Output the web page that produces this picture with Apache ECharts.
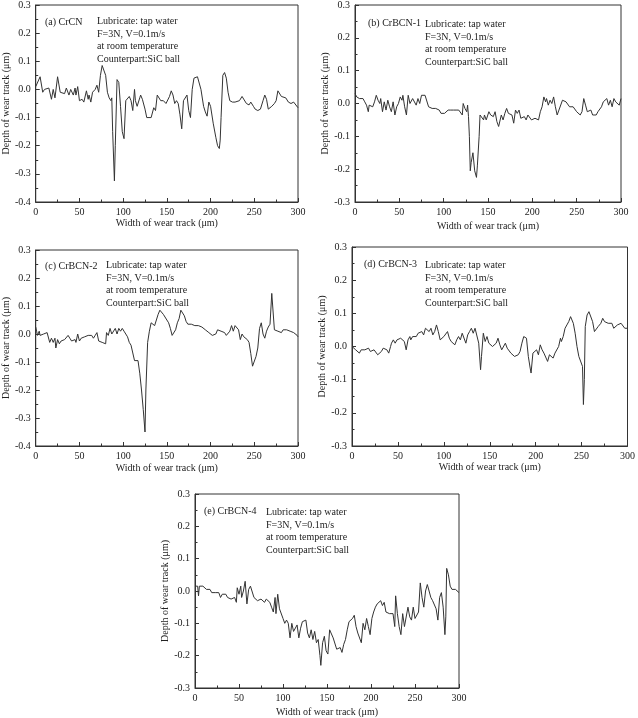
<!DOCTYPE html>
<html>
<head>
<meta charset="utf-8">
<script src="https://cdn.jsdelivr.net/npm/echarts@6/dist/echarts.min.js"></script>
<style>html,body{margin:0;padding:0;background:#fff;}#c{width:638px;height:718px;}</style>
</head>
<body>
<div id="c"></div>
<script>
const xTicks = [0, 50, 100, 150, 200, 250, 300];
const xAxisTitle = 'Width of wear track (μm)';
const yAxisTitle = 'Depth of wear track (μm)';
const noteLines = ['Lubricate: tap water', 'F=3N, V=0.1m/s', 'at room temperature', 'Counterpart:SiC ball'];
const panelLabels = ['(a) CrCN', '(b) CrBCN-1', '(c) CrBCN-2', '(d) CrBCN-3', '(e) CrBCN-4'];
const yMins = [-0.4, -0.3, -0.4, -0.3, -0.3];
const yMax = 0.3;

const profileA = [[0,0.01],[5,0.045],[8,-0.01],[10,0.0],[12,-0.005],[15,0.005],[18,-0.035],[20,0],[22,-0.03],[25,0.045],[28,-0.01],[30,-0.005],[33,-0.015],[35,0.005],[38,-0.02],[40,0.0],[43,-0.02],[45,0.005],[46,-0.02],[48,0.01],[50,-0.04],[53,-0.035],[55,-0.045],[58,-0.005],[60,-0.035],[61,-0.02],[63,-0.045],[65,-0.01],[68,0.0],[70,0.015],[72,-0.01],[74,0.05],[76,0.085],[78,0.09],[80,0.05],[82,-0.01],[84,-0.03],[86,-0.04],[87,-0.03],[88,-0.15],[90,-0.325],[91,-0.2],[93,0.035],[95,0.025],[97,-0.06],[99,-0.15],[101,-0.175],[102,-0.18],[103,-0.04],[105,-0.04],[107,-0.025],[109,-0.04],[111,-0.075],[113,0.0],[114,-0.04],[116,-0.06],[117,-0.055],[119,-0.03],[120,-0.02],[122,-0.035],[125,-0.07],[127,-0.1],[129,-0.105],[132,-0.1],[135,-0.065],[137,-0.075],[139,-0.02],[141,-0.025],[143,-0.04],[146,-0.04],[149,-0.05],[151,-0.055],[153,-0.025],[155,-0.005],[157,-0.02],[159,-0.05],[161,-0.04],[163,-0.05],[165,-0.09],[167,-0.14],[169,-0.04],[171,-0.04],[173,-0.02],[175,-0.075],[177,-0.1],[179,0.0],[181,0.04],[183,0.035],[185,0.045],[187,0.045],[189,0.0],[192,-0.06],[194,-0.08],[196,-0.095],[198,-0.045],[200,-0.06],[203,-0.12],[206,-0.17],[208,-0.2],[210,-0.21],[211,-0.18],[212,-0.1],[214,0.05],[216,0.06],[218,0.04],[220,-0.01],[222,-0.04],[225,-0.045],[228,-0.045],[230,-0.05],[233,-0.04],[236,-0.025],[238,-0.03],[241,-0.05],[244,-0.055],[246,-0.045],[249,-0.06],[251,-0.07],[254,-0.075],[257,-0.07],[260,-0.04],[262,-0.02],[264,-0.035],[266,-0.07],[268,-0.07],[270,-0.06],[273,-0.05],[275,-0.04],[277,-0.005],[279,-0.005],[281,-0.025],[283,-0.02],[286,-0.03],[289,-0.045],[292,-0.05],[295,-0.045],[297,-0.05],[300,-0.065]];

const profileB = [[0,0.03],[2,0.02],[3,0.025],[5,0.015],[7,0.01],[9,0.015],[11,0.005],[13,-0.005],[15,-0.025],[16,-0.005],[18,0.0],[20,-0.01],[22,0.005],[24,0.025],[26,0.01],[28,0.0],[29,0.015],[31,-0.025],[33,0.005],[35,-0.02],[37,0.01],[39,-0.01],[41,-0.025],[43,0.005],[45,-0.035],[47,-0.01],[49,0.0],[51,0.02],[53,0.01],[54,0.025],[56,-0.01],[58,-0.035],[60,0.025],[62,0.0],[64,0.0],[65,0.015],[67,0.01],[69,-0.005],[71,0.015],[73,0.0],[75,0.025],[77,0.02],[79,0.025],[81,0.02],[83,-0.01],[85,-0.005],[87,-0.015],[89,-0.01],[91,-0.015],[93,-0.02],[95,-0.02],[97,-0.03],[99,-0.03],[101,-0.03],[103,-0.025],[105,-0.02],[108,-0.02],[111,-0.02],[114,-0.02],[117,-0.02],[119,-0.015],[121,-0.035],[122,0.0],[124,-0.015],[126,-0.025],[127,-0.005],[128,-0.04],[129,-0.1],[130,-0.205],[131,-0.18],[133,-0.15],[135,-0.205],[136,-0.2],[137,-0.225],[138,-0.19],[140,-0.1],[141,-0.035],[143,-0.03],[145,-0.05],[146,-0.035],[148,-0.05],[150,-0.045],[151,-0.025],[153,-0.035],[155,-0.03],[156,-0.04],[158,-0.025],[160,-0.055],[162,-0.07],[164,-0.07],[165,-0.035],[167,-0.05],[169,-0.03],[171,-0.015],[173,-0.03],[175,-0.025],[177,-0.035],[179,-0.06],[181,-0.02],[183,-0.03],[185,-0.02],[187,-0.045],[189,-0.045],[191,-0.04],[193,-0.05],[195,-0.035],[197,-0.04],[199,-0.05],[201,-0.045],[203,-0.045],[205,-0.05],[207,-0.05],[209,-0.025],[211,-0.01],[213,0.02],[215,0.005],[216,0.015],[218,-0.005],[220,0.01],[222,0.0],[224,0.02],[226,-0.01],[228,-0.035],[230,-0.02],[232,-0.015],[234,0.01],[236,0.015],[238,0.005],[240,0.005],[242,-0.01],[244,-0.01],[246,-0.01],[248,-0.01],[250,-0.025],[252,-0.02],[254,-0.035],[256,-0.025],[258,0.015],[260,-0.005],[262,-0.025],[264,-0.02],[266,-0.02],[268,-0.035],[270,-0.04],[272,-0.035],[274,-0.025],[276,-0.02],[278,-0.01],[280,0.005],[282,0.0],[284,0.015],[286,-0.005],[288,0.01],[290,-0.01],[292,0.015],[294,0.005],[296,0.01],[298,-0.005],[300,0.015]];

const profileC = [[0,0.025],[1,0.01],[2,-0.005],[4,0.01],[5,-0.005],[7,-0.005],[9,0.0],[11,0.005],[13,0.005],[15,0.01],[16,-0.03],[18,-0.015],[20,-0.03],[22,-0.015],[23,-0.05],[25,-0.02],[27,-0.035],[29,-0.025],[31,-0.03],[33,-0.02],[35,-0.02],[37,-0.005],[39,-0.015],[41,-0.025],[43,-0.025],[45,-0.02],[46,-0.03],[48,0.0],[50,-0.025],[52,-0.015],[54,-0.02],[56,-0.01],[58,-0.015],[60,-0.005],[62,-0.01],[64,-0.005],[66,-0.015],[68,-0.005],[70,0.005],[72,-0.025],[74,-0.025],[76,-0.03],[78,-0.03],[80,-0.035],[81,0.005],[83,-0.005],[85,0.02],[87,0.0],[89,0.005],[91,0.02],[93,0.0],[95,0.02],[97,0.01],[99,0.02],[101,0.01],[103,0.0],[105,-0.01],[107,-0.03],[109,-0.04],[111,-0.045],[113,-0.095],[115,-0.09],[117,-0.095],[119,-0.14],[121,-0.2],[123,-0.27],[125,-0.35],[126,-0.2],[128,-0.03],[130,0.01],[132,0.04],[134,0.035],[136,0.03],[138,0.035],[140,0.07],[142,0.085],[144,0.08],[146,0.07],[148,0.065],[150,0.05],[152,0.04],[154,0.02],[156,-0.005],[158,0.0],[160,0.015],[162,0.04],[164,0.055],[166,0.085],[168,0.085],[170,0.065],[172,0.045],[174,0.035],[176,0.035],[178,0.035],[180,0.035],[182,0.03],[184,0.025],[186,0.03],[188,0.025],[190,0.025],[192,0.02],[194,0.015],[196,0.01],[198,0.005],[200,0.0],[202,-0.005],[204,-0.005],[206,0.0],[208,0.015],[210,0.015],[212,0.01],[214,0.005],[216,0.005],[218,-0.005],[220,-0.01],[222,0.01],[224,0.03],[226,0.01],[228,0.03],[230,0.035],[232,0.015],[234,-0.02],[236,0.0],[238,-0.01],[240,-0.005],[242,-0.02],[244,-0.03],[246,-0.07],[248,-0.115],[250,-0.12],[252,-0.08],[254,-0.05],[256,0.02],[258,0.04],[260,0.0],[262,-0.015],[264,0.01],[266,0.025],[268,0.035],[269,0.03],[270,0.145],[272,0.14],[273,0.015],[275,0.015],[277,0.01],[279,0.01],[281,0.005],[283,0.015],[285,0.02],[287,0.015],[289,0.01],[291,0.01],[293,0.01],[295,0.005],[297,0.0],[299,-0.005],[300,-0.01]];

const profileD = [[0,0.0],[2,0.005],[4,-0.01],[6,-0.005],[8,-0.02],[10,-0.01],[12,-0.015],[14,-0.01],[16,-0.015],[18,-0.005],[20,-0.015],[22,-0.01],[24,-0.01],[26,-0.005],[28,-0.025],[30,-0.025],[32,-0.015],[34,-0.005],[36,-0.005],[38,-0.01],[40,-0.02],[42,0.0],[43,0.01],[45,0.02],[47,0.01],[49,0.02],[51,0.015],[53,0.025],[55,0.02],[57,0.015],[59,-0.01],[61,0.02],[63,0.03],[64,0.02],[66,0.03],[68,0.035],[70,0.03],[72,0.04],[74,0.035],[76,0.045],[78,0.035],[80,0.055],[82,0.05],[84,0.045],[86,0.055],[88,0.035],[90,0.045],[92,0.065],[94,0.045],[96,0.02],[98,0.025],[100,0.03],[102,0.035],[104,0.045],[106,0.025],[108,0.015],[110,0.01],[112,0.005],[114,0.02],[116,0.03],[118,0.02],[120,0.04],[122,0.035],[124,0.01],[126,0.035],[128,0.045],[130,0.055],[132,0.04],[134,0.055],[136,0.05],[138,0.01],[140,-0.07],[141,-0.03],[143,0.04],[145,0.015],[147,0.03],[149,0.01],[151,0.015],[153,0.0],[155,-0.005],[157,0.01],[159,0.025],[161,0.005],[163,-0.01],[165,-0.005],[167,0.01],[169,-0.005],[171,-0.01],[173,-0.02],[175,-0.02],[177,-0.03],[179,-0.035],[181,-0.025],[183,-0.015],[185,0.01],[187,0.03],[189,0.035],[190,0.025],[192,-0.03],[194,-0.065],[195,-0.08],[197,-0.02],[199,-0.015],[201,-0.01],[203,-0.025],[205,0.005],[207,-0.01],[209,-0.02],[211,-0.015],[213,-0.045],[215,-0.025],[217,-0.025],[219,-0.035],[221,-0.02],[223,-0.02],[225,0.0],[227,0.025],[228,0.015],[230,0.03],[232,0.055],[234,0.065],[236,0.075],[238,0.09],[239,0.09],[241,0.07],[243,0.04],[245,0.0],[247,-0.03],[249,-0.035],[251,-0.06],[252,-0.175],[253,-0.1],[254,0.06],[256,0.095],[258,0.105],[260,0.1],[262,0.075],[264,0.045],[266,0.05],[268,0.06],[269,0.055],[271,0.07],[273,0.085],[275,0.075],[277,0.075],[279,0.07],[281,0.075],[283,0.07],[285,0.055],[287,0.06],[289,0.065],[291,0.07],[293,0.07],[295,0.065],[297,0.055],[298,0.06],[300,0.055]];

const profileE = [[0,0.015],[2,0.01],[3,0.015],[4,-0.015],[5,0.015],[7,0.01],[9,0.015],[11,0.015],[13,0.005],[15,0.0],[17,0.005],[19,-0.005],[21,0.0],[23,-0.005],[25,-0.01],[27,-0.005],[29,-0.02],[31,-0.01],[33,-0.015],[35,-0.01],[37,-0.02],[39,-0.015],[41,-0.025],[43,-0.03],[45,-0.02],[47,-0.035],[48,0.01],[50,-0.01],[52,0.015],[53,-0.02],[55,0.0],[57,0.03],[59,-0.04],[61,0.005],[63,0.015],[65,0.01],[67,-0.02],[69,-0.02],[71,-0.03],[73,-0.025],[75,-0.025],[77,-0.03],[79,-0.035],[81,-0.025],[83,-0.025],[85,-0.035],[87,-0.05],[89,-0.065],[91,-0.02],[92,-0.07],[94,-0.01],[96,-0.055],[98,-0.06],[100,-0.085],[102,-0.1],[104,-0.09],[106,-0.1],[108,-0.145],[110,-0.1],[112,-0.125],[114,-0.12],[116,-0.105],[118,-0.145],[120,-0.115],[122,-0.095],[124,-0.09],[126,-0.09],[128,-0.13],[130,-0.145],[132,-0.12],[134,-0.15],[136,-0.125],[138,-0.16],[140,-0.15],[142,-0.2],[143,-0.23],[145,-0.16],[147,-0.14],[149,-0.185],[151,-0.195],[153,-0.12],[155,-0.125],[157,-0.145],[159,-0.15],[161,-0.18],[163,-0.175],[165,-0.175],[167,-0.19],[169,-0.165],[171,-0.15],[173,-0.12],[175,-0.095],[177,-0.1],[179,-0.085],[181,-0.075],[183,-0.11],[185,-0.13],[187,-0.135],[189,-0.16],[191,-0.1],[193,-0.12],[195,-0.085],[197,-0.11],[199,-0.135],[201,-0.085],[203,-0.065],[205,-0.05],[207,-0.04],[209,-0.045],[211,-0.03],[213,-0.045],[215,-0.035],[217,-0.065],[219,-0.06],[221,-0.07],[223,-0.075],[225,-0.07],[227,-0.11],[228,-0.015],[230,-0.07],[232,-0.11],[234,-0.135],[236,-0.07],[238,-0.11],[240,-0.11],[242,-0.05],[244,-0.08],[246,-0.09],[248,-0.05],[250,-0.085],[252,-0.09],[254,-0.065],[256,0.025],[258,-0.02],[260,-0.05],[262,0.0],[264,0.02],[266,0.0],[268,-0.02],[270,-0.03],[272,-0.025],[274,-0.055],[276,-0.09],[278,-0.02],[280,-0.005],[282,-0.05],[284,-0.135],[285,-0.08],[286,0.07],[288,0.05],[290,0.015],[292,0.005],[294,0.01],[296,0.005],[298,0.0],[300,-0.005]];

const profiles = [profileA, profileB, profileC, profileD, profileE];

// layout (pixels)
const layout = [
  {grid:{left:33, top:5, width:265, height:197}, xGap:15, yGap:21, label:[45,17], note:[97,15]},
  {grid:{left:355, top:5, width:266, height:197}, xGap:19, yGap:22, label:[368,18], note:[425,18]},
  {grid:{left:33, top:250, width:265, height:196}, xGap:17, yGap:23, label:[45,261], note:[106,259]},
  {grid:{left:352, top:247, width:277, height:199}, xGap:15, yGap:19, label:[364,259], note:[425,259]},
  {grid:{left:195, top:494, width:264, height:195}, xGap:19, yGap:22, label:[204,506], note:[266,506]}
];

const FONT = 'Liberation Serif';
const INK = '#222';
const LINE = '#333';

const grids = [], xAxes = [], yAxes = [], series = [], graphics = [];
layout.forEach((L, i) => {
  grids.push(Object.assign({show:true, borderColor:LINE, borderWidth:1, containLabel:false}, L.grid));
  const common = {
    gridIndex:i,
    axisLine:{show:true, onZero:false, lineStyle:{color:LINE, width:1}},
    axisTick:{show:true, inside:true, length:4, lineStyle:{color:LINE}},
    minorTick:{show:true, splitNumber:2, length:2.5, lineStyle:{color:LINE}},
    splitLine:{show:false},
    axisLabel:{color:INK, fontFamily:FONT, fontSize:10, margin:5},
    nameTextStyle:{color:INK, fontFamily:FONT, fontSize:10},
    nameLocation:'middle'
  };
  xAxes.push(Object.assign({}, common, {
    type:'value', min:xTicks[0], max:xTicks[xTicks.length-1], interval:xTicks[1]-xTicks[0],
    name:xAxisTitle, nameGap:L.xGap
  }));
  yAxes.push(Object.assign({}, common, {
    type:'value', min:yMins[i], max:yMax, interval:0.1,
    name:yAxisTitle, nameGap:L.yGap,
    axisLabel:Object.assign({}, common.axisLabel, {formatter:v => (Math.abs(v) < 1e-9 ? 0 : v).toFixed(1)})
  }));
  series.push({
    type:'line', xAxisIndex:i, yAxisIndex:i, data:profiles[i],
    showSymbol:false, symbol:'none', smooth:false, animation:false,
    lineStyle:{color:LINE, width:1}
  });
  graphics.push({type:'text', left:L.label[0], top:L.label[1],
    style:{text:panelLabels[i], fill:INK, font:'10px "' + FONT + '"'}});
  graphics.push({type:'text', left:L.note[0], top:L.note[1],
    style:{text:noteLines.join('\n'), fill:INK, font:'10px "' + FONT + '"', lineHeight:12.6}});
});

const chart = echarts.init(document.getElementById('c'), null, {renderer:'canvas'});
chart.setOption({
  animation:false,
  backgroundColor:'#fff',
  grid:grids, xAxis:xAxes, yAxis:yAxes, series:series, graphic:graphics
});
</script>
</body>
</html>
